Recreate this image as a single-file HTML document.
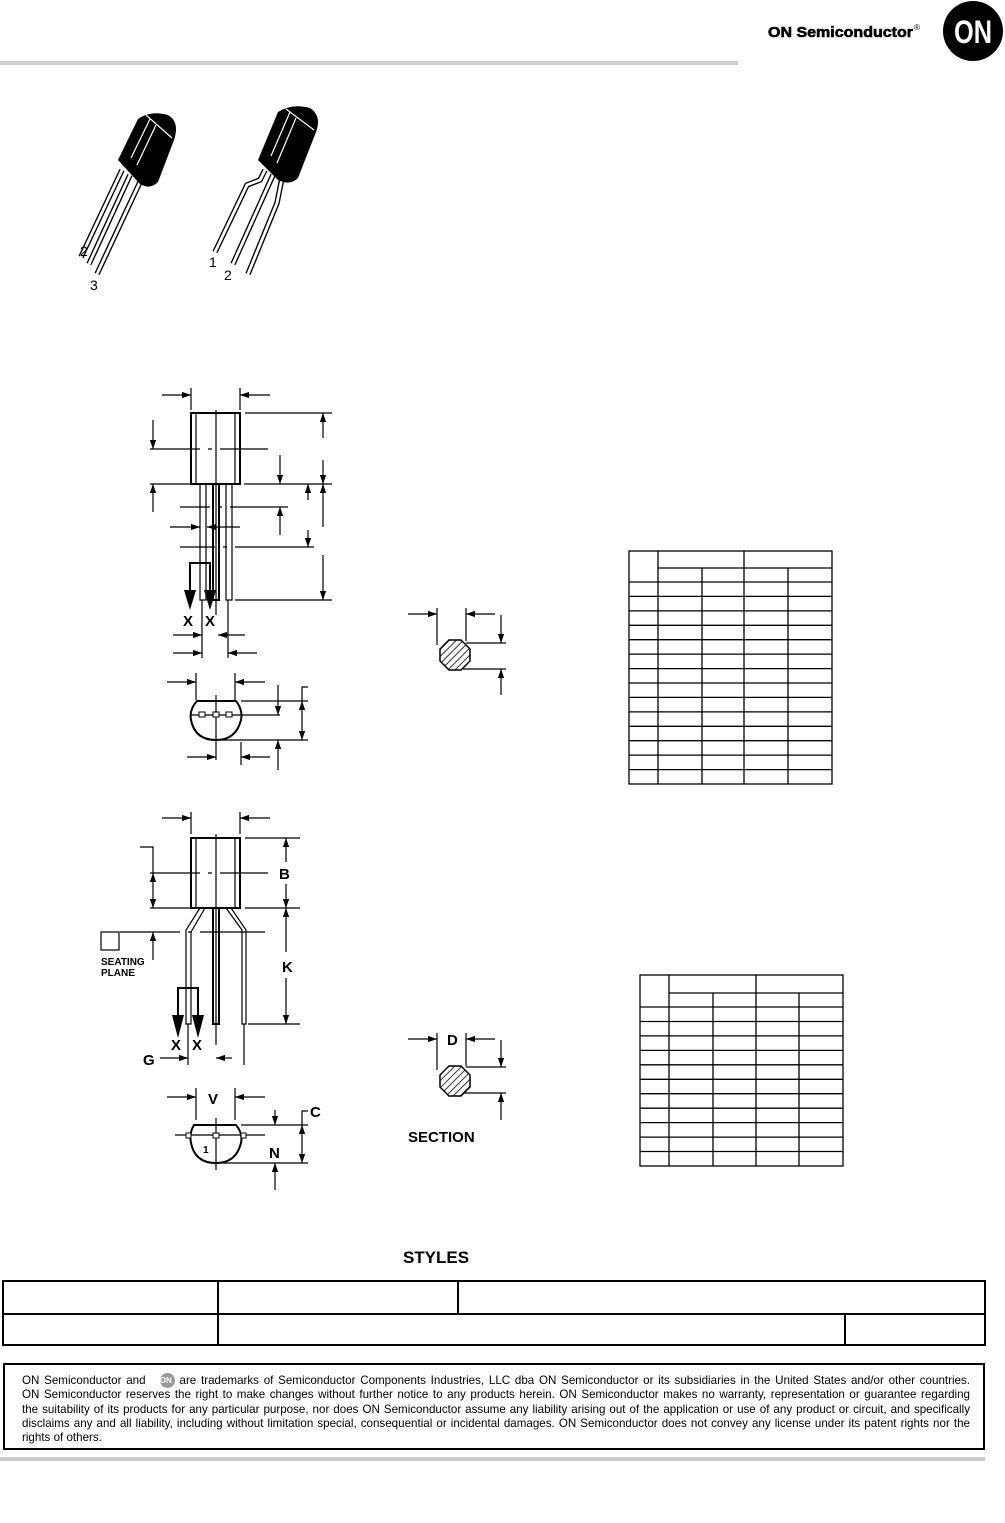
<!DOCTYPE html>
<html><head><meta charset="utf-8"><style>
html,body{margin:0;padding:0;background:#fff;}
body{width:1005px;height:1523px;position:relative;overflow:hidden;font-family:"Liberation Sans",sans-serif;}
svg{position:absolute;left:0;top:0;}
.disc{position:absolute;left:3px;top:1363px;width:978px;height:83px;border:2px solid #000;}
.disc div.t{position:absolute;left:17px;top:9px;width:948px;font-size:11.6px;line-height:14.3px;color:#000;}
.disc div.t>div{height:14.3px;overflow:visible;}
.disc div.l{text-align:justify;text-align-last:justify;white-space:nowrap;}
.logo{display:inline-block;width:15px;height:15px;border-radius:50%;background:#999;color:#fff;font-size:8px;font-weight:bold;text-align:center;line-height:15px;vertical-align:top;margin-top:-1px;}
</style></head><body>
<svg width="1005" height="1523" viewBox="0 0 1005 1523">
<defs>
<marker id="a" viewBox="0 0 10 10" refX="10" refY="5" markerWidth="9" markerHeight="9" markerUnits="userSpaceOnUse" orient="auto"><path d="M0,1.5 L10,5 L0,8.5 Z" fill="#000"/></marker>
<marker id="b" viewBox="0 0 10 10" refX="0" refY="5" markerWidth="9" markerHeight="9" markerUnits="userSpaceOnUse" orient="auto"><path d="M10,1.5 L0,5 L10,8.5 Z" fill="#000"/></marker>
<pattern id="h" width="5" height="5" patternUnits="userSpaceOnUse" patternTransform="rotate(45)"><rect width="5" height="5" fill="#fff"/><line x1="0" y1="0" x2="0" y2="5" stroke="#000" stroke-width="1.6"/></pattern>
</defs>
<!-- header -->
<text x="768" y="37" font-size="15" font-weight="bold" textLength="145" lengthAdjust="spacingAndGlyphs" stroke="#000" stroke-width="0.6">ON Semiconductor</text>
<text x="914" y="30" font-size="8">®</text>
<circle cx="973" cy="31" r="30" fill="#000"/>
<text x="973" y="43" font-size="32" font-weight="bold" fill="#fff" text-anchor="middle" textLength="38" lengthAdjust="spacingAndGlyphs">ON</text>
<rect x="0" y="61" width="738" height="4" fill="#ccc"/>

<!-- photo 1 -->
<g stroke-linecap="butt" fill="none">
<path d="M122,170 L81,257 M130,175 L89,264 M140,182 L97,274" stroke="#000" stroke-width="5.5"/>
<path d="M122,170 L81,257 M130,175 L89,264 M140,182 L97,274" stroke="#fff" stroke-width="2.8"/>
</g>
<path d="M118,160 L138,119 Q150,110 168,115 Q180,122 174,140 L158,182 Q150,190 140,184 Z" fill="#000"/>
<path d="M146,115 L172,138 M131,158 L150,119 M137,165 L156,125" stroke="#fff" stroke-width="1.2" fill="none"/>
<text x="80" y="256" font-size="14">2</text><text x="90" y="290" font-size="14">3</text>

<!-- photo 2 -->
<g fill="none">
<path d="M265,170 L260,180 L247,185 L215,252 M273,175 L233,264 M282,178 L277,203 L248,274" stroke="#000" stroke-width="5.5"/>
<path d="M265,170 L260,180 L247,185 L215,252 M273,175 L233,264 M282,178 L277,203 L248,274" stroke="#fff" stroke-width="2.8"/>
</g>
<path d="M258,160 L278,112 Q292,103 310,108 Q322,116 316,132 L298,178 Q290,186 278,180 Z" fill="#000"/>
<path d="M286,109 L314,130 M271,156 L290,112 M277,163 L296,118" stroke="#fff" stroke-width="1.2" fill="none"/>
<text x="209" y="267" font-size="14">1</text><text x="224" y="280" font-size="14">2</text>

<!-- drawing 1 -->
<g stroke="#000" stroke-width="1.2" fill="none">
<rect x="191" y="413" width="49" height="71" stroke-width="2"/>
<line x1="196" y1="413" x2="196" y2="484"/><line x1="235" y1="413" x2="235" y2="484"/>
<line x1="216" y1="410" x2="216" y2="615"/>
<line x1="191" y1="388" x2="191" y2="410"/><line x1="240" y1="388" x2="240" y2="410"/>
<line x1="162" y1="395" x2="191" y2="395" marker-end="url(#a)"/>
<line x1="270" y1="395" x2="240" y2="395" marker-end="url(#a)"/>
<line x1="245" y1="413" x2="332" y2="413"/>
<line x1="244" y1="484" x2="332" y2="484"/>
<line x1="235" y1="600" x2="332" y2="600"/>
<line x1="323" y1="438" x2="323" y2="413" marker-end="url(#a)"/>
<line x1="323" y1="460" x2="323" y2="484" marker-end="url(#a)"/>
<line x1="323" y1="527" x2="323" y2="484" marker-end="url(#a)"/>
<line x1="323" y1="555" x2="323" y2="600" marker-end="url(#a)"/>
<line x1="280" y1="455" x2="280" y2="484" marker-end="url(#a)"/>
<line x1="280" y1="535" x2="280" y2="507" marker-end="url(#a)"/>
<line x1="308" y1="500" x2="308" y2="484" marker-end="url(#a)"/>
<line x1="308" y1="530" x2="308" y2="547" marker-end="url(#a)"/>
<line x1="180" y1="507" x2="288" y2="507" stroke-dasharray="30,8,4,8,60"/>
<line x1="180" y1="547" x2="314" y2="547" stroke-dasharray="35,8,4,8,80"/>
<line x1="150" y1="449" x2="268" y2="449" stroke-dasharray="50,8,4,8,60"/>
<line x1="150" y1="484" x2="190" y2="484"/>
<line x1="153" y1="420" x2="153" y2="449" marker-end="url(#a)"/>
<line x1="153" y1="512" x2="153" y2="484" marker-end="url(#a)"/>
<rect x="200" y="484" width="6" height="116"/>
<rect x="213" y="484" width="6" height="116" stroke-width="2"/>
<rect x="226" y="484" width="6" height="116"/>
<line x1="170" y1="527" x2="200" y2="527" marker-end="url(#a)"/>
<line x1="240" y1="527" x2="207" y2="527" marker-end="url(#a)"/>
<path d="M190,590 L190,563 L210,563 L210,590" stroke-width="2"/>
<line x1="202" y1="600" x2="202" y2="658"/><line x1="228" y1="600" x2="228" y2="658"/>
<line x1="173" y1="635" x2="202" y2="635" marker-end="url(#a)"/>
<line x1="245" y1="635" x2="218" y2="635" marker-end="url(#a)"/>
<line x1="173" y1="653" x2="202" y2="653" marker-end="url(#a)"/>
<line x1="257" y1="653" x2="228" y2="653" marker-end="url(#a)"/>
</g>
<path d="M184,590 L196,590 L190,610 Z M204,590 L216,590 L210,610 Z" fill="#000"/>
<text x="183" y="626" font-size="15" font-weight="bold">X</text><text x="205" y="626" font-size="15" font-weight="bold">X</text>

<!-- bottom view 1 -->
<g stroke="#000" stroke-width="1.2" fill="none">
<line x1="196" y1="673" x2="196" y2="700"/><line x1="235" y1="673" x2="235" y2="700"/>
<line x1="167" y1="682" x2="196" y2="682" marker-end="url(#a)"/>
<line x1="265" y1="682" x2="235" y2="682" marker-end="url(#a)"/>
<path d="M197,701 L236,701 Q243,710 241,720 Q236,740 216,740 Q195,740 191,720 Q189,710 197,701 Z" stroke-width="2"/>
<line x1="191" y1="715" x2="280" y2="715"/>
<line x1="216" y1="695" x2="216" y2="760"/>
<line x1="241" y1="701" x2="308" y2="701"/>
<line x1="216" y1="740" x2="308" y2="740"/>
<line x1="278" y1="685" x2="278" y2="715" marker-end="url(#a)"/>
<line x1="278" y1="770" x2="278" y2="740" marker-end="url(#a)"/>
<line x1="302" y1="720" x2="302" y2="701" marker-end="url(#a)"/>
<line x1="302" y1="720" x2="302" y2="740" marker-end="url(#a)"/>
<path d="M302,701 L302,687 L308,687"/>
<line x1="241" y1="742" x2="241" y2="765"/>
<line x1="187" y1="757" x2="216" y2="757" marker-end="url(#a)"/>
<line x1="270" y1="757" x2="241" y2="757" marker-end="url(#a)"/>
</g>
<g fill="#fff" stroke="#000" stroke-width="1"><rect x="199" y="712" width="6" height="5"/><rect x="213" y="712" width="6" height="5"/><rect x="226" y="712" width="6" height="5"/></g>

<!-- section 1 -->
<g stroke="#000" stroke-width="1.2" fill="none">
<polygon points="449,640 461,640 470,649 470,661 461,670 449,670 440,661 440,649" fill="url(#h)" stroke-width="1.5"/>
<line x1="437" y1="608" x2="437" y2="645"/><line x1="466" y1="608" x2="466" y2="641"/>
<line x1="408" y1="614" x2="437" y2="614" marker-end="url(#a)"/>
<line x1="495" y1="614" x2="466" y2="614" marker-end="url(#a)"/>
<line x1="466" y1="643" x2="506" y2="643"/><line x1="463" y1="669" x2="506" y2="669"/>
<line x1="501" y1="615" x2="501" y2="643" marker-end="url(#a)"/>
<line x1="501" y1="695" x2="501" y2="669" marker-end="url(#a)"/>
</g>

<!-- table 1 -->
<g stroke="#000" stroke-width="1.3" fill="none">
<rect x="629" y="551" width="203" height="233"/>
<line x1="658" y1="551" x2="658" y2="784"/>
<line x1="744" y1="551" x2="744" y2="784"/>
<line x1="658" y1="568" x2="832" y2="568"/>
<line x1="702" y1="568" x2="702" y2="784"/>
<line x1="788" y1="568" x2="788" y2="784"/>
<line x1="629" y1="582" x2="832" y2="582"/><line x1="629" y1="596.4" x2="832" y2="596.4"/><line x1="629" y1="610.9" x2="832" y2="610.9"/><line x1="629" y1="625.3" x2="832" y2="625.3"/><line x1="629" y1="639.7" x2="832" y2="639.7"/><line x1="629" y1="654.1" x2="832" y2="654.1"/><line x1="629" y1="668.6" x2="832" y2="668.6"/><line x1="629" y1="683" x2="832" y2="683"/><line x1="629" y1="697.4" x2="832" y2="697.4"/><line x1="629" y1="711.9" x2="832" y2="711.9"/><line x1="629" y1="726.3" x2="832" y2="726.3"/><line x1="629" y1="740.7" x2="832" y2="740.7"/><line x1="629" y1="755.1" x2="832" y2="755.1"/><line x1="629" y1="769.6" x2="832" y2="769.6"/>
</g>

<!-- drawing 2 -->
<g stroke="#000" stroke-width="1.2" fill="none">
<rect x="191" y="838" width="49" height="70" stroke-width="2"/>
<line x1="196" y1="838" x2="196" y2="908"/><line x1="235" y1="838" x2="235" y2="908"/>
<line x1="216" y1="834" x2="216" y2="1045"/>
<line x1="191" y1="812" x2="191" y2="834"/><line x1="240" y1="812" x2="240" y2="834"/>
<line x1="162" y1="818" x2="191" y2="818" marker-end="url(#a)"/>
<line x1="270" y1="818" x2="240" y2="818" marker-end="url(#a)"/>
<line x1="245" y1="838" x2="300" y2="838"/><line x1="245" y1="908" x2="300" y2="908"/>
<line x1="248" y1="1024" x2="300" y2="1024"/>
<line x1="286" y1="862" x2="286" y2="838" marker-end="url(#a)"/>
<line x1="286" y1="884" x2="286" y2="908" marker-end="url(#a)"/>
<line x1="286" y1="952" x2="286" y2="908" marker-end="url(#a)"/>
<line x1="286" y1="978" x2="286" y2="1024" marker-end="url(#a)"/>
<path d="M140,847 L153,847 L153,873"/>
<line x1="150" y1="873" x2="268" y2="873" stroke-dasharray="50,8,4,8,60"/>
<line x1="150" y1="908" x2="190" y2="908"/>
<line x1="153" y1="890" x2="153" y2="873" marker-end="url(#a)"/>
<line x1="153" y1="890" x2="153" y2="908" marker-end="url(#a)"/>
<path d="M200,908 L186,930 L186,1024 L191,1024 L191,932 L205,908"/>
<rect x="213" y="908" width="6" height="116" stroke-width="2"/>
<path d="M226,908 L242,930 L242,1024 L246,1024 L246,930 L231,908"/>
<rect x="101" y="932" width="18" height="18"/>
<line x1="120" y1="932" x2="265" y2="932" stroke-dasharray="60,8,4,8,100"/>
<line x1="153" y1="960" x2="153" y2="932" marker-end="url(#a)"/>
<path d="M178,1015 L178,988 L198,988 L198,1015" stroke-width="2"/>
<line x1="188" y1="1024" x2="188" y2="1065"/><line x1="244" y1="1024" x2="244" y2="1065"/>
<line x1="160" y1="1058" x2="188" y2="1058" marker-end="url(#a)"/>
<line x1="216" y1="1058" x2="232" y2="1058" marker-start="url(#b)"/>
</g>
<path d="M172,1015 L184,1015 L178,1038 Z M192,1015 L204,1015 L198,1038 Z" fill="#000"/>
<text x="279" y="879" font-size="15" font-weight="bold">B</text>
<text x="282" y="972" font-size="15" font-weight="bold">K</text>
<text x="101" y="965" font-size="10" font-weight="bold">SEATING</text>
<text x="101" y="976" font-size="10" font-weight="bold">PLANE</text>
<text x="171" y="1050" font-size="15" font-weight="bold">X</text><text x="192" y="1050" font-size="15" font-weight="bold">X</text>
<text x="143" y="1065" font-size="15" font-weight="bold">G</text>

<!-- bottom view 2 -->
<g stroke="#000" stroke-width="1.2" fill="none">
<line x1="196" y1="1088" x2="196" y2="1120"/><line x1="235" y1="1088" x2="235" y2="1120"/>
<line x1="167" y1="1097" x2="196" y2="1097" marker-end="url(#a)"/>
<line x1="265" y1="1097" x2="235" y2="1097" marker-end="url(#a)"/>
<path d="M194,1125 L236,1125 Q243,1133 241,1143 Q236,1163 216,1163 Q195,1163 191,1143 Q189,1133 194,1125 Z" stroke-width="2"/>
<line x1="175" y1="1135" x2="265" y2="1135"/>
<line x1="216" y1="1118" x2="216" y2="1170"/>
<line x1="241" y1="1125" x2="308" y2="1125"/>
<line x1="216" y1="1163" x2="308" y2="1163"/>
<line x1="275" y1="1110" x2="275" y2="1125" marker-end="url(#a)"/>
<line x1="275" y1="1190" x2="275" y2="1163" marker-end="url(#a)"/>
<line x1="302" y1="1144" x2="302" y2="1125" marker-end="url(#a)"/>
<line x1="302" y1="1144" x2="302" y2="1163" marker-end="url(#a)"/>
<path d="M302,1125 L302,1111 L308,1111"/>
</g>
<g fill="#fff" stroke="#000" stroke-width="1"><rect x="186" y="1133" width="5" height="5"/><rect x="213" y="1133" width="6" height="5"/><rect x="241" y="1133" width="5" height="5"/></g>
<text x="208" y="1104" font-size="15" font-weight="bold">V</text>
<text x="310" y="1117" font-size="15" font-weight="bold">C</text>
<text x="269" y="1158" font-size="15" font-weight="bold">N</text>
<text x="203" y="1153" font-size="10" font-weight="bold">1</text>

<!-- section 2 -->
<g stroke="#000" stroke-width="1.2" fill="none">
<polygon points="449,1066 461,1066 470,1075 470,1087 461,1096 449,1096 440,1087 440,1075" fill="url(#h)" stroke-width="1.5"/>
<line x1="437" y1="1033" x2="437" y2="1070"/><line x1="466" y1="1033" x2="466" y2="1066"/>
<line x1="408" y1="1039" x2="437" y2="1039" marker-end="url(#a)"/>
<line x1="495" y1="1039" x2="466" y2="1039" marker-end="url(#a)"/>
<line x1="466" y1="1067" x2="506" y2="1067"/><line x1="463" y1="1093" x2="506" y2="1093"/>
<line x1="501" y1="1040" x2="501" y2="1067" marker-end="url(#a)"/>
<line x1="501" y1="1120" x2="501" y2="1093" marker-end="url(#a)"/>
</g>
<text x="447" y="1045" font-size="15" font-weight="bold">D</text>
<text x="408" y="1142" font-size="15" font-weight="bold">SECTION</text>

<!-- table 2 -->
<g stroke="#000" stroke-width="1.3" fill="none">
<rect x="640" y="975" width="203" height="191"/>
<line x1="669" y1="975" x2="669" y2="1166"/>
<line x1="756" y1="975" x2="756" y2="1166"/>
<line x1="669" y1="993" x2="843" y2="993"/>
<line x1="713" y1="993" x2="713" y2="1166"/>
<line x1="799" y1="993" x2="799" y2="1166"/>
<line x1="640" y1="1007" x2="843" y2="1007"/><line x1="640" y1="1021.5" x2="843" y2="1021.5"/><line x1="640" y1="1035.9" x2="843" y2="1035.9"/><line x1="640" y1="1050.4" x2="843" y2="1050.4"/><line x1="640" y1="1064.8" x2="843" y2="1064.8"/><line x1="640" y1="1079.3" x2="843" y2="1079.3"/><line x1="640" y1="1093.7" x2="843" y2="1093.7"/><line x1="640" y1="1108.2" x2="843" y2="1108.2"/><line x1="640" y1="1122.6" x2="843" y2="1122.6"/><line x1="640" y1="1137.1" x2="843" y2="1137.1"/><line x1="640" y1="1151.5" x2="843" y2="1151.5"/>
</g>

<!-- styles -->
<text x="436" y="1263" font-size="17" font-weight="bold" text-anchor="middle">STYLES</text>
<g stroke="#000" stroke-width="2" fill="none">
<rect x="3" y="1281" width="982" height="64"/>
<line x1="3" y1="1314" x2="985" y2="1314"/>
<line x1="218" y1="1281" x2="218" y2="1345"/>
<line x1="458" y1="1281" x2="458" y2="1314"/>
<line x1="845" y1="1314" x2="845" y2="1345"/>
</g>
<rect x="0" y="1457" width="985" height="4" fill="#ccc"/>
</svg>
<div class="disc"><div class="t">
<div class="l">ON Semiconductor and &nbsp;&nbsp;<span class="logo">ON</span> are trademarks of Semiconductor Components Industries, LLC dba ON Semiconductor or its subsidiaries in the United States and/or other countries.</div>
<div class="l">ON Semiconductor reserves the right to make changes without further notice to any products herein. ON Semiconductor makes no warranty, representation or guarantee regarding</div>
<div class="l">the suitability of its products for any particular purpose, nor does ON Semiconductor assume any liability arising out of the application or use of any product or circuit, and specifically</div>
<div class="l">disclaims any and all liability, including without limitation special, consequential or incidental damages. ON Semiconductor does not convey any license under its patent rights nor the</div>
<div>rights of others.</div>
</div></div>
</body></html>
